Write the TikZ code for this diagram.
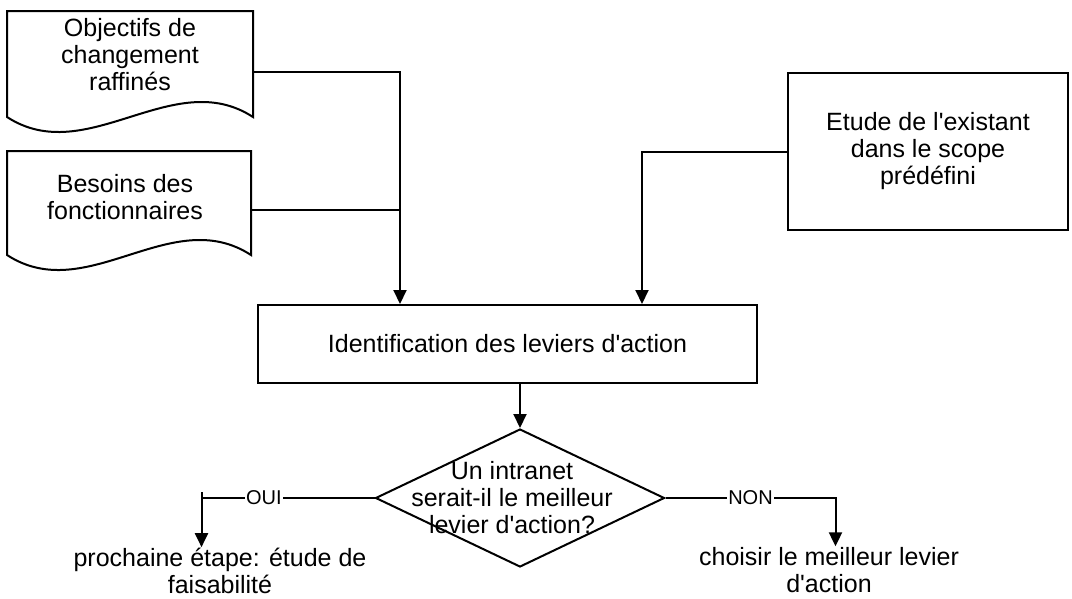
\documentclass[tikz,border=0pt]{standalone}
\usepackage{fontspec}
\setmainfont{Liberation Sans}
\usetikzlibrary{arrows.meta,shapes.geometric}
\newcommand{\ap}{\textquotesingle}

\begin{document}
\begin{tikzpicture}[x=1pt,y=-1pt,line width=2pt,
    font=\fontsize{25}{27}\selectfont,
    txt/.style={align=center,inner sep=0pt},
    page/.style={inner sep=0pt},
    proc/.style={draw,inner sep=0pt,align=center},
    arr/.style={-{Triangle[length=14pt,width=13pt]}},
    lab/.style={fill=white,inner sep=1pt,font=\fontsize{20}{20}\selectfont}]
    \useasboundingbox (0,0) rectangle (1072,598);
    % sources
    \node[page,minimum width=244pt,minimum height=104pt] (obj) at (130,64) {};
    \node[txt] (objt) at ([yshift=9pt]obj.center) {Objectifs de\\changement\\raffinés};
    \node[page,minimum width=242pt,minimum height=102pt] (bes) at (129,203) {};
    \node[txt] (best) at ([xshift=-4pt,yshift=6pt]bes.center) {Besoins des\\fonctionnaires};
    \foreach \d in {obj,bes}
    \draw (\d.south west) -- (\d.north west) -- (\d.north east) -- (\d.south east)
        .. controls +(-80,-52) and +(80,52) .. (\d.south west) -- cycle;
    \node[proc,minimum width=280pt,minimum height=157pt] (exi) at (928,151.5) {Etude de l\ap existant\\dans le scope\\prédéfini};
    % process and decision
    \node[proc,minimum width=499pt,minimum height=78pt] (lev) at (507.5,344) {Identification des leviers d\ap action};
    \node[draw,diamond,minimum width=289pt,minimum height=138pt,inner sep=0pt] (q) at (520,498) {};
    \node[txt] (qt) at ([xshift=-8pt]q.center) {Un intranet\\serait-il le meilleur\\levier d\ap action?};
    \node[txt] (yes) at (220,571) {prochaine étape: étude de\\faisabilité};
    \node[txt] (no) at (829,570) {choisir le meilleur levier\\d\ap action};
    % connectors
    \coordinate (inl) at ([xshift=-107.5pt]lev.north);
    \coordinate (inr) at ([xshift=134.5pt]lev.north);
    \coordinate (besr) at ([yshift=-7pt]bes.east);
    \draw[arr] ([yshift=-8pt]obj.east) -| (inl);
    \draw (besr) -- (besr -| inl);
    \draw[arr] (exi.west) -| (inr);
    \draw[arr] (lev.south -| q.north) -- (q.north);
    \draw (q.west) -- node[lab,pos=0.64] {OUI} ++(-173,0) coordinate (oc);
    \draw[arr] ([yshift=6pt]oc) -- (oc |- yes.north);
    \draw[arr] (q.east) -- node[lab] {NON} ++(170,0) coordinate (nc) -- (nc |- no.north);
\end{tikzpicture}
\end{document}
